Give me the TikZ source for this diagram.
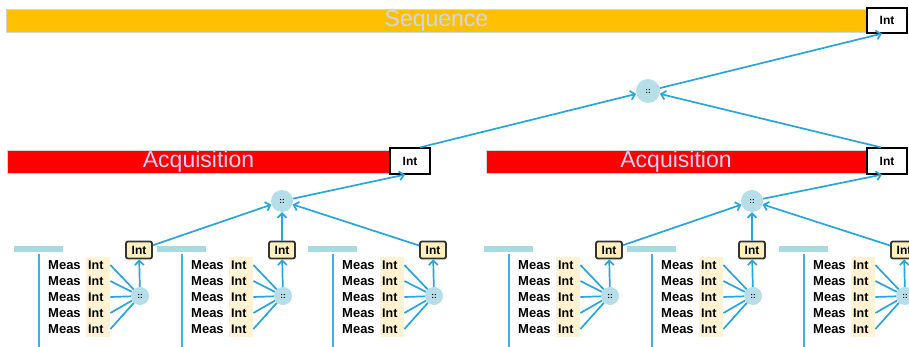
\documentclass[tikz,border=0pt]{standalone}
\usepackage{fontspec}
\setmainfont{Liberation Sans}
\usetikzlibrary{arrows.meta}
\definecolor{connc}{RGB}{40,165,220}
\definecolor{seqor}{RGB}{255,192,0}
\definecolor{acqred}{RGB}{255,0,0}
\definecolor{circfill}{RGB}{182,222,232}
\definecolor{barcyan}{RGB}{168,218,226}
\definecolor{intyel}{RGB}{255,243,212}
\definecolor{boxbeige}{RGB}{255,240,190}
\definecolor{titletext}{RGB}{205,212,245}
\definecolor{barline}{RGB}{200,215,225}
\definecolor{vline}{RGB}{59,178,227}
\tikzset{
  conn/.style={draw=connc, line width=1.7pt},
  arr/.style={conn, -{Straight Barb[length=4.5pt,width=9pt]}},
  titlebar/.style={draw=barline, line width=0.6pt, inner sep=0pt, text=titletext,
    font=\fontsize{23}{23}\selectfont, minimum height=23pt},
  bigint/.style={draw=black, fill=white, line width=1.2pt, inner sep=0pt,
    minimum width=40pt, minimum height=25pt, font=\fontsize{12}{12}\selectfont\bfseries},
  smallint/.style={draw=black!80, fill=boxbeige, line width=1.8pt, rounded corners=2pt,
    inner sep=0pt, minimum width=26pt, minimum height=17pt, font=\fontsize{12}{12}\selectfont\bfseries},
  junction/.style={circle, fill=circfill, inner sep=0pt, font=\fontsize{8}{8}\selectfont\bfseries},
  meastext/.style={anchor=west, inner sep=0pt, font=\fontsize{13}{13}\selectfont\bfseries},
  intcell/.style={anchor=west, fill=intyel, inner sep=2pt, text width=20pt, align=left,
    minimum height=16pt, font=\fontsize{12.5}{12.5}\selectfont\bfseries},
  shortbar/.style={fill=barcyan},
}
\begin{document}
\begin{tikzpicture}[x=1pt,y=-1pt]
\useasboundingbox (0,0) rectangle (909,347);
\clip (0,0) rectangle (909,347);
\fill[white] (0,0) rectangle (909,347);

% Sequence level
\node[titlebar, fill=seqor, minimum width=861pt] (seq) at (436.5,20.5) {Sequence};
\node[bigint] (s) at (887,20.5) {Int};
\node[junction, minimum size=24pt] (t) at (648,91) {::};

% Acquisition level
\node[titlebar, fill=acqred, minimum width=383pt] (acq1) at (198.5,161.5) {Acquisition};
\node[titlebar, fill=acqred, minimum width=380pt] (acq2) at (676,161.5) {Acquisition};
\node[bigint, minimum height=26pt] (a1) at (410,161) {Int};
\node[bigint, minimum height=26pt] (a2) at (887,161) {Int};
\node[junction, minimum size=22pt] (m1) at (282,201) {::};
\node[junction, minimum size=22pt] (m2) at (752,201) {::};

% Measurement groups
\foreach \o [count=\g] in {0,143,294,470,613,765}{
  \fill[shortbar] (14+\o,246) rectangle (63+\o,252);
  \draw[vline, line width=2.6pt] (39+\o,254) -- (39+\o,347);
  \node[junction, minimum size=18pt] (c\g) at (140+\o,296) {::};
  \node[smallint] (b\g) at (139+\o,250) {Int};
  \foreach \i in {1,...,5}{
    \pgfmathsetmacro\yy{265+16*(\i-1)}
    \node[meastext] (ms\g-\i) at (48+\o,\yy) {Meas};
    \node[intcell] (i\g-\i) at (86+\o,\yy) {Int};
    \draw[conn] (i\g-\i.east) -- (c\g);
  }
  \draw[arr] (c\g) -- (b\g);
}

% to acquisition junctions
\draw[arr] (b1) -- (m1);
\draw[arr] (b2) -- (m1);
\draw[arr] (b3) -- (m1);
\draw[arr] (b4) -- (m2);
\draw[arr] (b5) -- (m2);
\draw[arr] (b6) -- (m2);

\draw[arr] (m1) -- ([xshift=-5pt]a1.south);
\draw[arr] (m2) -- ([xshift=-5pt]a2.south);

\draw[arr] ([xshift=10pt]a1.north) -- (t);
\draw[arr] ([xshift=-6pt]a2.north) -- (t);
\draw[arr] (t) -- ([xshift=-5pt]s.south);
\end{tikzpicture}
\end{document}
